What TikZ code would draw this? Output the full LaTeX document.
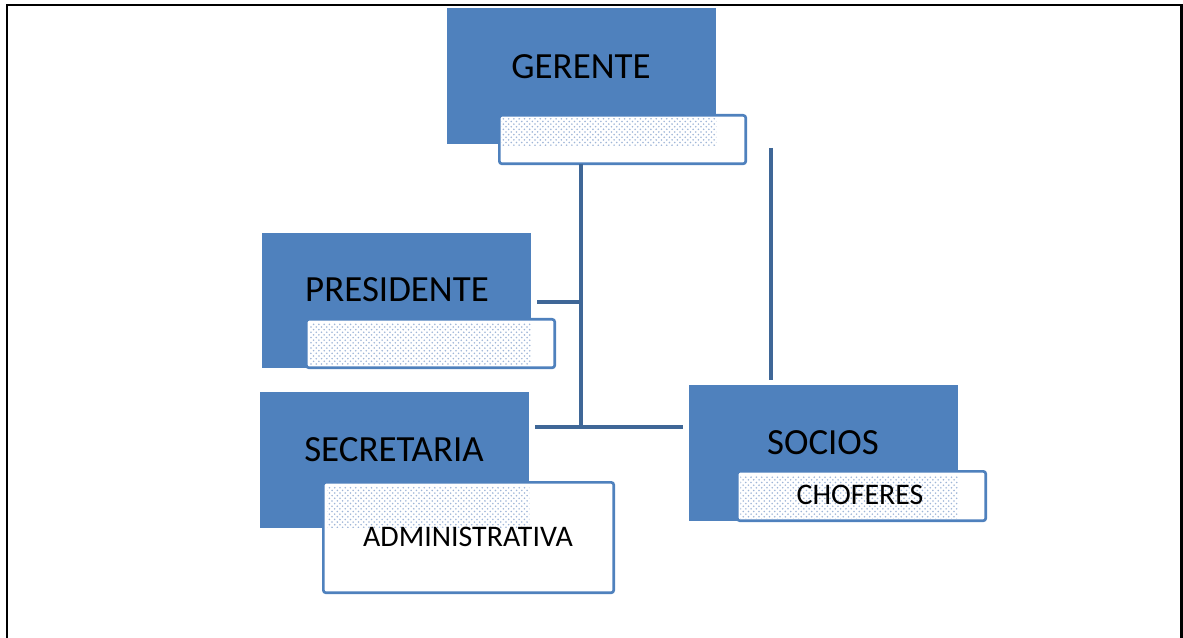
\documentclass[tikz,border=0pt]{standalone}
\usepackage{fontspec}
\setmainfont{Carlito}
\usetikzlibrary{patterns}
\definecolor{boxblue}{HTML}{4F81BD}
\definecolor{linkblue}{HTML}{3F6797}
\definecolor{dotblue}{HTML}{9FB6D8}

\begin{document}
\begin{tikzpicture}[x=0.02cm,y=-0.02cm,
                main box/.style={fill=boxblue, anchor=north west, inner sep=0pt,
                  minimum width=5.38cm, minimum height=2.72cm},
                sub box/.style={draw=boxblue, line width=1.5pt, fill=white,
                  rounded corners=1.5pt, anchor=north west, inner sep=0pt},
                dots box/.style={pattern=crosshatch dots, pattern color=dotblue,
                  anchor=north west, inner sep=0pt},
                big text/.style={font=\fontsize{21}{24}\selectfont},
                small text/.style={font=\fontsize{17}{20}\selectfont},
                link/.style={draw=linkblue, line width=2.6pt}]

  \useasboundingbox (0,0) rectangle (1183,638);
  \draw[line width=1.7pt] (7,640) -- (7,5) -- (1181,5) -- (1181,640);

  % boxes
  \node[main box] (ger) at (447,8) {};
  \node[sub box, minimum width=4.93cm, minimum height=0.97cm] (gersub) at (498,114) {};
  \node[dots box, minimum width=4.3cm, minimum height=0.54cm] (gerdots) at (501,118) {};
  \node[big text] (gertext) at (581,67) {GERENTE};

  \node[main box, minimum height=2.7cm] (pres) at (262,233) {};
  \node[sub box, minimum width=4.97cm, minimum height=0.97cm] (pressub) at (305,318) {};
  \node[dots box, minimum width=4.44cm, minimum height=0.82cm] (presdots) at (309,323) {};
  \node[big text] (prestext) at (397,290) {PRESIDENTE};

  \node[main box] (secr) at (260,392) {};
  \node[sub box, minimum width=5.81cm, minimum height=2.21cm] (secrsub) at (322,481) {};
  \node[dots box, minimum width=4.04cm, minimum height=0.82cm] (secrdots) at (327,486) {};
  \node[big text] (secrtext) at (394,450) {SECRETARIA};
  \node[small text] (admtext) at (468,537) {ADMINISTRATIVA};

  \node[main box] (soc) at (689,385) {};
  \node[sub box, minimum width=4.97cm, minimum height=0.99cm] (socsub) at (736,470) {};
  \node[dots box, minimum width=4.36cm, minimum height=0.84cm] (socdots) at (740,476) {};
  \node[big text] (soctext) at (823,443) {SOCIOS};
  \node[small text] (chotext) at (860,495) {CHOFERES};

  % connectors
  \coordinate (trunktop) at (581,164);
  \coordinate (trunkbot) at (581,427);
  \coordinate (presend) at (537,302);
  \coordinate (presjoin) at (583,302);
  \coordinate (secrend) at (535,427);
  \coordinate (socend) at (683,427);
  \coordinate (righttop) at (771,148);
  \coordinate (rightbot) at (771,380);

  \path[link]
    (trunktop) -- (trunkbot)
    (presend) -- (presjoin)
    (secrend) -- (socend)
    (righttop) -- (rightbot);
\end{tikzpicture}
\end{document}
